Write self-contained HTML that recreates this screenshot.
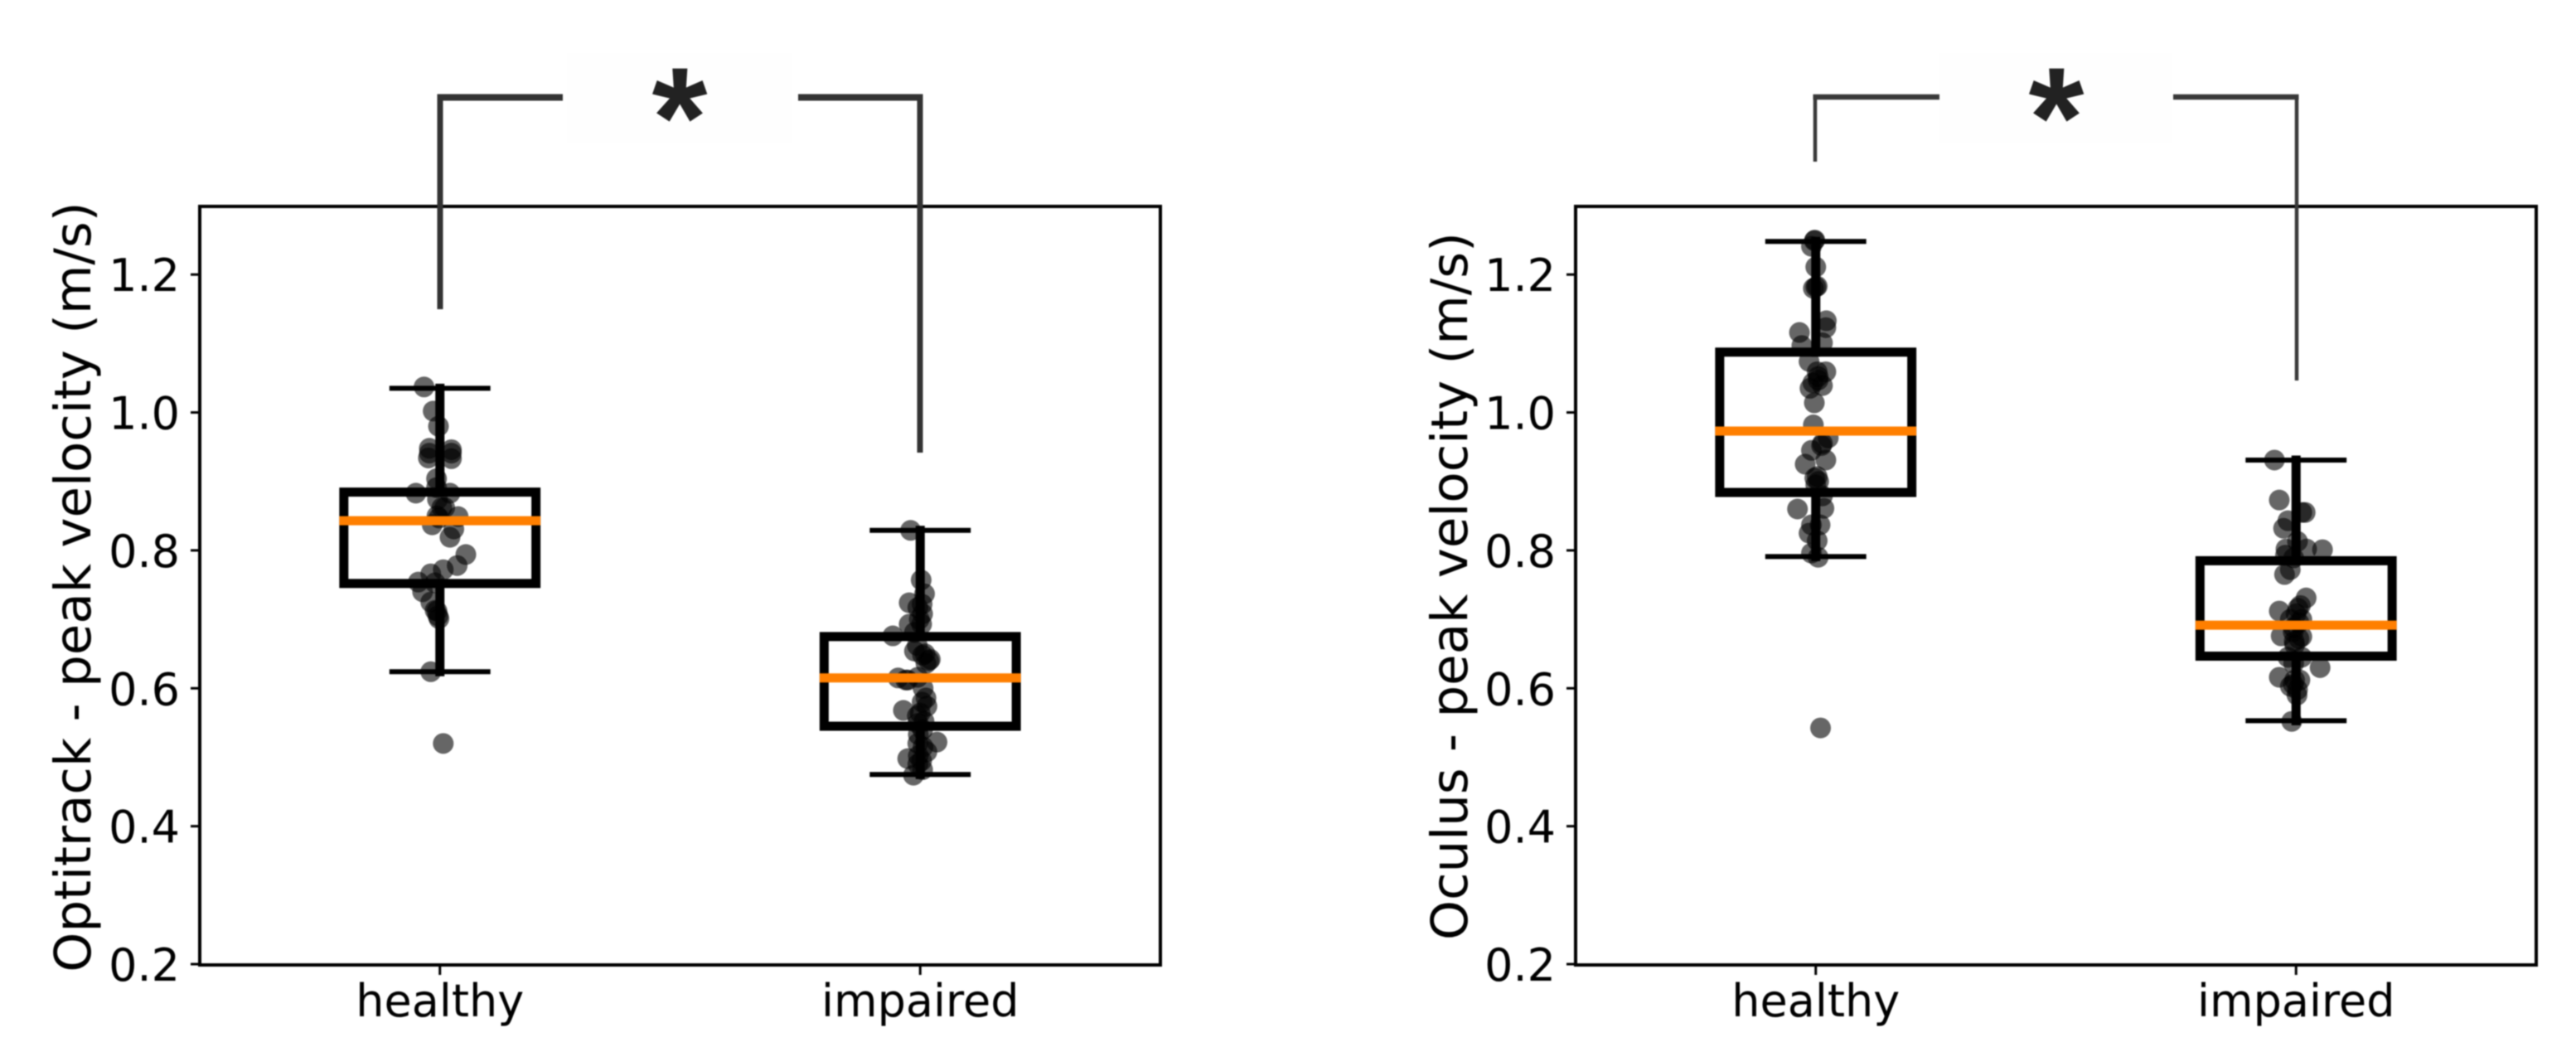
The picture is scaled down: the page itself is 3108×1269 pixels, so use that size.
<!DOCTYPE html>
<html lang="en">
<head>
<meta charset="utf-8">
<title>Peak velocity: Optitrack and Oculus</title>
<style>
  html, body { margin: 0; padding: 0; background: #ffffff; }
  svg { display: block; filter: blur(0.8px); }
  text { font-family: "DejaVu Sans", "Liberation Sans", sans-serif; fill: #000; }
</style>
</head>
<body>
<svg id="figure" xmlns="http://www.w3.org/2000/svg" width="3108" height="1269" viewBox="0 0 3108 1269">
  <rect x="0" y="0" width="3108" height="1269" fill="#ffffff"/>
  <g id="optitrack-panel"></g>
  <g id="oculus-panel"></g>

  <text transform="translate(109,708) rotate(-90)" text-anchor="middle" font-size="61">Optitrack - peak velocity (m/s)</text>
  <text transform="translate(1770,707) rotate(-90)" text-anchor="middle" font-size="61">Oculus - peak velocity (m/s)</text>

  <g fill="none" stroke="#333333">
    <rect x="684" y="64" width="272" height="109" fill="#fefefe" stroke="none"/>
    <path d="M531 373 V114" stroke-width="7"/>
    <path d="M527.5 117.5 H679" stroke-width="8"/>
    <path d="M963 117.5 H1113.5" stroke-width="8"/>
    <path d="M1110 114 V546" stroke-width="7"/>
    <text x="820" y="201" text-anchor="middle" font-size="172" font-weight="bold" stroke="none" style="font-family:'Liberation Sans',sans-serif;fill:#222222">*</text>
  </g>
  <g fill="none" stroke="#383838">
    <rect x="2340" y="64" width="280" height="109" fill="#fefefe" stroke="none"/>
    <path d="M2190 195 V114" stroke-width="4.5"/>
    <path d="M2187.5 117 H2340" stroke-width="6.5"/>
    <path d="M2622 117 H2773.5" stroke-width="6.5"/>
    <path d="M2771 114 V459" stroke-width="4.5"/>
    <text x="2481" y="201" text-anchor="middle" font-size="172" font-weight="bold" stroke="none" style="font-family:'Liberation Sans',sans-serif;fill:#222222">*</text>
  </g>
</svg>

<script>
const categories = ['healthy', 'impaired'];
const yTickValues = [0.2, 0.4, 0.6, 0.8, 1.0, 1.2];
const yTickLabels = ['0.2', '0.4', '0.6', '0.8', '1.0', '1.2'];

const optitrackWhiskerLow = [0.624, 0.475];
const optitrackQ1 = [0.752, 0.545];
const optitrackMedian = [0.843, 0.615];
const optitrackQ3 = [0.8845, 0.675];
const optitrackWhiskerHigh = [1.035, 0.829];

const oculusWhiskerLow = [0.791, 0.553];
const oculusQ1 = [0.884, 0.6466];
const oculusMedian = [0.973, 0.6916];
const oculusQ3 = [1.0875, 0.785];
const oculusWhiskerHigh = [1.248, 0.931];

const optitrackHealthyValues = [1.037,1.002,0.980,0.948,0.946,0.934,0.933,0.904,0.883,0.891,0.883,0.874,0.862,0.849,0.847,0.837,0.831,0.819,0.794,0.778,0.772,0.766,0.754,0.753,0.740,0.725,0.713,0.701,0.624,0.520,0.862,0.850,0.712,0.705,0.941,0.941];
const optitrackHealthyJitter = [-0.033,-0.014,-0.003,-0.022,0.024,-0.024,0.024,-0.007,-0.050,-0.007,0.021,-0.005,0.010,0.038,-0.002,-0.016,0.029,0.021,0.054,0.036,0.007,-0.019,-0.045,-0.010,-0.036,-0.019,-0.010,-0.002,-0.019,0.007,0.004,-0.006,-0.006,-0.004,-0.022,0.024];
const optitrackImpairedValues = [0.829,0.757,0.737,0.724,0.708,0.717,0.693,0.693,0.676,0.681,0.654,0.648,0.642,0.636,0.615,0.612,0.616,0.586,0.574,0.568,0.564,0.549,0.540,0.522,0.508,0.520,0.498,0.490,0.482,0.474,0.722,0.700,0.662,0.650,0.640,0.612,0.600,0.580,0.560,0.552,0.533,0.515,0.502,0.495];
const optitrackImpairedJitter = [-0.020,0.002,0.009,-0.023,0.005,-0.005,-0.023,0.003,-0.057,-0.012,-0.012,0.005,0.021,0.012,-0.046,-0.026,-0.005,0.012,0.014,-0.035,0.000,-0.005,0.005,0.035,0.014,-0.005,-0.026,-0.005,0.005,-0.014,0.004,-0.002,-0.006,0.010,0.018,-0.030,0.006,0.004,-0.006,0.008,-0.004,0.006,-0.004,0.003];
const oculusHealthyValues = [1.249,1.241,1.211,1.180,1.183,1.133,1.123,1.116,1.097,1.101,1.074,1.059,1.059,1.047,1.035,1.039,1.014,0.982,0.963,0.952,0.945,0.931,0.925,0.907,0.895,0.879,0.860,0.861,0.837,0.837,0.825,0.814,0.796,0.790,0.5425,1.052,1.043,1.250,1.182,0.905,0.900,0.955];
const oculusHealthyJitter = [-0.003,-0.009,0.000,-0.005,0.003,0.022,0.021,-0.034,-0.029,0.014,-0.014,0.003,0.021,0.005,-0.012,0.014,-0.003,-0.005,0.026,0.012,-0.009,0.021,-0.022,0.003,0.000,0.014,-0.038,0.017,-0.009,0.009,-0.014,0.003,-0.009,0.005,0.010,0.005,-0.006,-0.002,0.000,-0.002,0.006,0.014];
const oculusImpairedValues = [0.931,0.873,0.855,0.843,0.832,0.813,0.802,0.802,0.801,0.793,0.789,0.772,0.765,0.731,0.720,0.712,0.708,0.700,0.700,0.688,0.676,0.675,0.663,0.645,0.645,0.636,0.630,0.616,0.612,0.603,0.598,0.552,0.695,0.682,0.672,0.668,0.612,0.606,0.590,0.855,0.716];
const oculusImpairedJitter = [-0.045,-0.035,0.019,-0.017,-0.026,0.003,-0.021,0.022,0.055,-0.022,-0.005,-0.012,-0.024,0.021,0.009,-0.035,0.000,-0.012,0.012,-0.005,-0.031,0.012,-0.003,-0.017,0.012,-0.005,0.050,-0.035,-0.003,-0.012,0.003,-0.009,0.006,-0.006,0.006,-0.004,0.008,-0.006,0.002,0.012,0.004];

const SVG_NS = 'http://www.w3.org/2000/svg';

function make(tag, parent, attrs) {
  const node = document.createElementNS(SVG_NS, tag);
  for (const key in attrs) {
    node.setAttribute(key, attrs[key]);
  }
  parent.appendChild(node);
  return node;
}

function drawPanel(panelId, frame, boxStats, pointValues, pointJitter) {
  const panel = document.getElementById(panelId);
  const xScale = function (pos) { return frame.left + (pos - 0.5) / 2 * (frame.right - frame.left); };
  const yScale = function (v) { return frame.bottom - (v - 0.2) / 1.1 * (frame.bottom - frame.top); };

  categories.forEach(function (cat, i) {
    const center = i + 1;
    pointValues[i].forEach(function (v, k) {
      const dot = make('circle', panel, { cx: xScale(center + pointJitter[i][k]), cy: yScale(v), r: 12.5, fill: '#000000', 'fill-opacity': 0.6 });
      
      
    });
  });

  categories.forEach(function (cat, i) {
    const center = i + 1;
    const cx = xScale(center);
    const low = yScale(boxStats.whiskerLow[i]);
    const q1 = yScale(boxStats.q1[i]);
    const med = yScale(boxStats.median[i]);
    const q3 = yScale(boxStats.q3[i]);
    const high = yScale(boxStats.whiskerHigh[i]);
    const boxLeft = xScale(center - 0.2);
    const boxRight = xScale(center + 0.2);
    const capLeft = xScale(center - 0.1);
    const capRight = xScale(center + 0.1);

    const lowerWhisker = make('line', panel, { x1: cx, x2: cx, y1: q1, y2: low, stroke: '#000', 'stroke-width': 11, 'stroke-linecap': 'square' });
    
    

    const upperWhisker = make('line', panel, { x1: cx, x2: cx, y1: q3, y2: high, stroke: '#000', 'stroke-width': 11, 'stroke-linecap': 'square' });
    
    

    const lowerCap = make('line', panel, { x1: capLeft, x2: capRight, y1: low, y2: low, stroke: '#000', 'stroke-width': 6, 'stroke-linecap': 'square' });
    
    

    const upperCap = make('line', panel, { x1: capLeft, x2: capRight, y1: high, y2: high, stroke: '#000', 'stroke-width': 6, 'stroke-linecap': 'square' });
    
    

    const box = make('rect', panel, { x: boxLeft, y: q3, width: boxRight - boxLeft, height: q1 - q3, fill: 'none', stroke: '#000', 'stroke-width': 11 });
    
    

    const medianLine = make('line', panel, { x1: boxLeft, x2: boxRight, y1: med, y2: med, stroke: '#ff7f00', 'stroke-width': 11, 'stroke-linecap': 'square' });
    
    

    const xTick = make('line', panel, { x1: cx, x2: cx, y1: frame.bottom, y2: frame.bottom + 13, stroke: '#000', 'stroke-width': 3 });
    
    

    const xLabel = make('text', panel, { x: cx, y: frame.bottom + 63, 'text-anchor': 'middle', 'font-size': 54 });
    
    
    xLabel.textContent = cat;
  });

  yTickValues.forEach(function (v, i) {
    const y = yScale(v);
    const yTick = make('line', panel, { x1: frame.left - 11, x2: frame.left, y1: y, y2: y, stroke: '#000', 'stroke-width': 3 });
    
    

    const yLabel = make('text', panel, { x: frame.left - 24, y: y + 20, 'text-anchor': 'end', 'font-size': 54 });
    
    
    yLabel.textContent = yTickLabels[i];
  });

  const plotFrame = make('rect', panel, { x: frame.left, y: frame.top + 1, width: frame.right - frame.left, height: frame.bottom - frame.top, fill: 'none', stroke: '#000', 'stroke-width': 4 });
  
  
}

drawPanel(
  'optitrack-panel',
  { left: 241, right: 1400, top: 248, bottom: 1163 },
  { whiskerLow: optitrackWhiskerLow, q1: optitrackQ1, median: optitrackMedian, q3: optitrackQ3, whiskerHigh: optitrackWhiskerHigh },
  [optitrackHealthyValues, optitrackImpairedValues],
  [optitrackHealthyJitter, optitrackImpairedJitter]
);

drawPanel(
  'oculus-panel',
  { left: 1901, right: 3060, top: 248, bottom: 1163 },
  { whiskerLow: oculusWhiskerLow, q1: oculusQ1, median: oculusMedian, q3: oculusQ3, whiskerHigh: oculusWhiskerHigh },
  [oculusHealthyValues, oculusImpairedValues],
  [oculusHealthyJitter, oculusImpairedJitter]
);
</script>
</body>
</html>
